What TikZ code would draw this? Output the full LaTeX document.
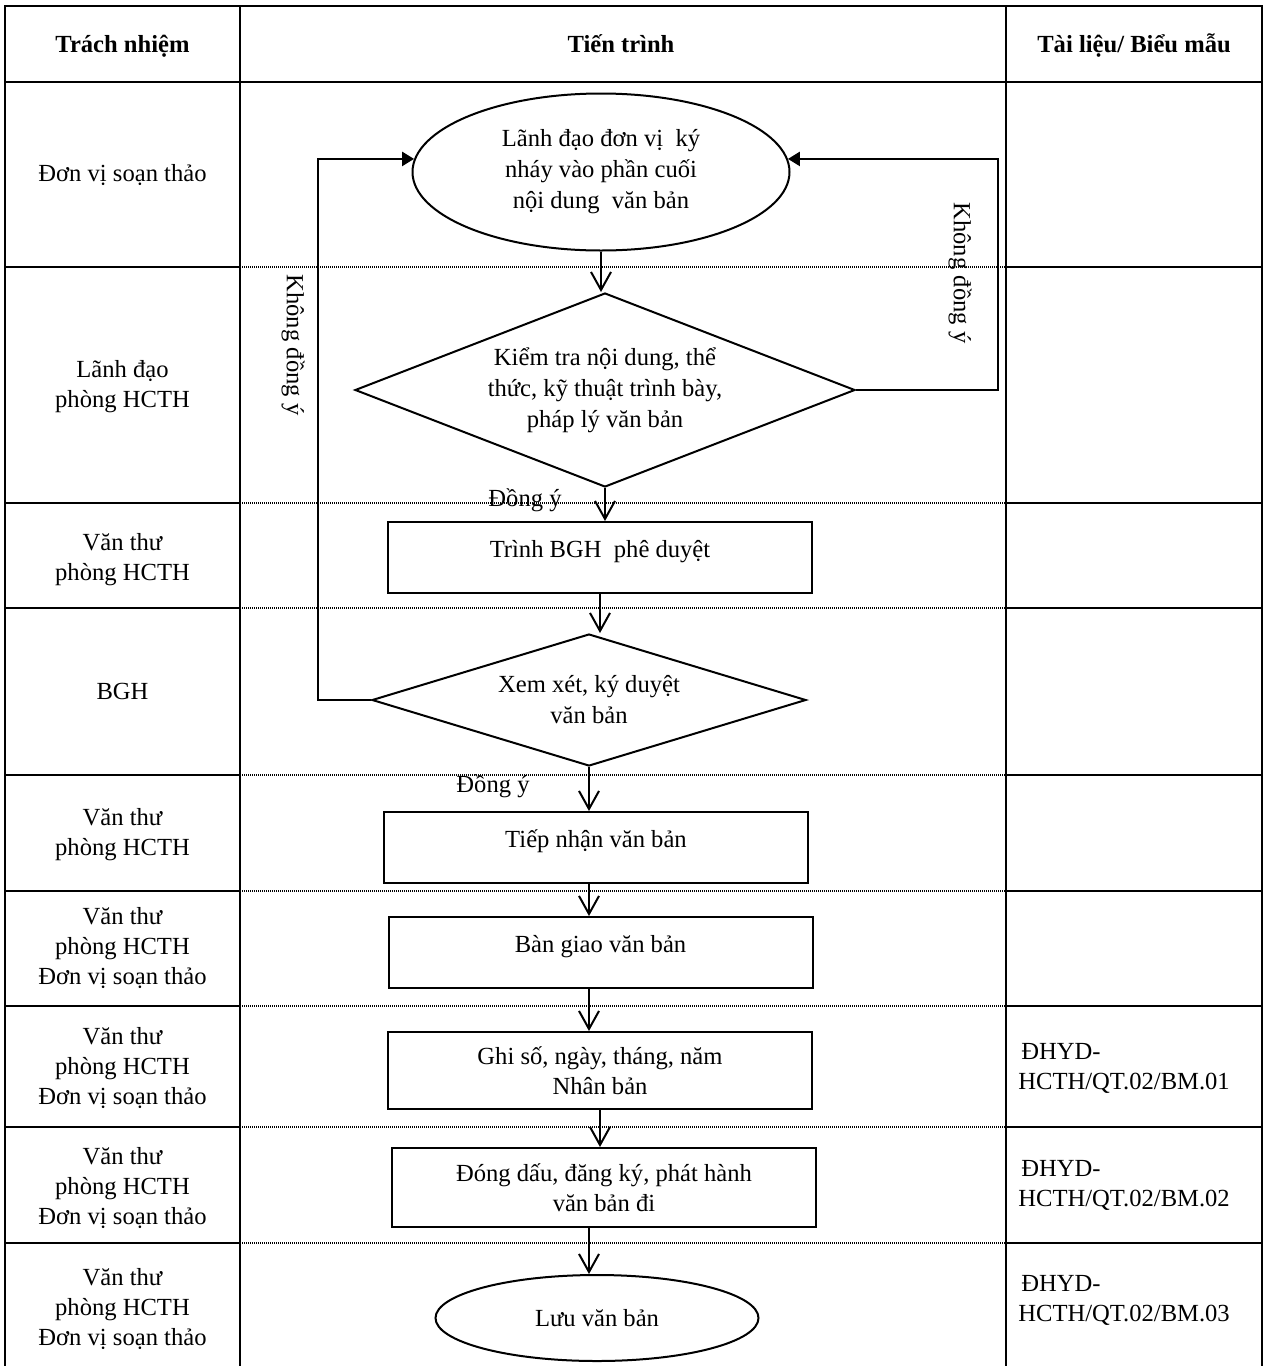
\documentclass[tikz,border=0pt]{standalone}
\usepackage{fontspec}
\setmainfont{Liberation Serif}
\usetikzlibrary{shapes.geometric,arrows.meta}

\begin{document}
\begin{tikzpicture}[x=0.5pt, y=-0.5pt,
  every node/.style={font=\fontsize{12.3}{15}\selectfont, inner sep=0pt, align=center},
  grid/.style={line width=0.9pt},
  rowdots/.style={line width=1pt, dash pattern=on 0.5pt off 0.5pt},
  stepbox/.style={draw, line width=1pt, minimum width=212pt, minimum height=35.5pt},
  oneline/.style={text height=6pt, text depth=6pt},
  decision/.style={draw, diamond, line width=1pt, font=\fontsize{12.3}{15.5}\selectfont},
  terminal/.style={draw, ellipse, line width=1pt, font=\fontsize{12.3}{15.5}\selectfont},
  flow/.style={line width=1pt, -{Straight Barb[length=9pt,width=10pt]}},
  backflow/.style={line width=1.2pt, -{Triangle[length=6pt,width=7pt]}},
  headtext/.style={font=\fontsize{12.3}{15}\selectfont\bfseries, text height=6pt, text depth=6pt}]
\useasboundingbox (0,0) rectangle (1265,1366);

\draw[grid] (5,1366) -- (5,6) -- (1262,6) -- (1262,1366);
\draw[grid] (240,6) -- (240,1366);
\draw[grid] (1006,6) -- (1006,1366);
\draw[grid] (5,82) -- (1262,82);
\draw[grid] (5,267) -- (240,267) (1006,267) -- (1262,267);
\draw[grid] (5,503) -- (240,503) (1006,503) -- (1262,503);
\draw[grid] (5,608) -- (240,608) (1006,608) -- (1262,608);
\draw[grid] (5,775) -- (240,775) (1006,775) -- (1262,775);
\draw[grid] (5,891) -- (240,891) (1006,891) -- (1262,891);
\draw[grid] (5,1006) -- (240,1006) (1006,1006) -- (1262,1006);
\draw[grid] (5,1127) -- (240,1127) (1006,1127) -- (1262,1127);
\draw[grid] (5,1243) -- (240,1243) (1006,1243) -- (1262,1243);
\draw[rowdots] (240,267) -- (1006,267);
\draw[rowdots] (240,503) -- (1006,503);
\draw[rowdots] (240,608) -- (1006,608);
\draw[rowdots] (240,775) -- (1006,775);
\draw[rowdots] (240,891) -- (1006,891);
\draw[rowdots] (240,1006) -- (1006,1006);
\draw[rowdots] (240,1127) -- (1006,1127);
\draw[rowdots] (240,1243) -- (1006,1243);

\node[headtext] (hid0) at (122.5,52) {Trách nhiệm};
\node[headtext] (hid1) at (621,52) {Tiến trình};
\node[headtext] (hid2) at (1134,52) {Tài liệu/ Biểu mẫu};

\node (rid1) at (122.5,175) {Đơn vị soạn thảo};
\node (rid2) at (122.5,387) {Lãnh đạo\\phòng HCTH};
\node (rid3) at (122.5,560) {Văn thư\\phòng HCTH};
\node (rid4) at (122.5,691) {BGH};
\node (rid5) at (122.5,835) {Văn thư\\phòng HCTH};
\node (rid6) at (122.5,948) {Văn thư\\phòng HCTH\\Đơn vị soạn thảo};
\node (rid7) at (122.5,1068) {Văn thư\\phòng HCTH\\Đơn vị soạn thảo};
\node (rid8) at (122.5,1188) {Văn thư\\phòng HCTH\\Đơn vị soạn thảo};
\node (rid9) at (122.5,1309) {Văn thư\\phòng HCTH\\Đơn vị soạn thảo};

\node[anchor=west, align=left] (did7) at (1018,1068) {\hspace*{1.5pt}ĐHYD-\\HCTH/QT.02/BM.01};
\node[anchor=west, align=left] (did8) at (1018,1185) {\hspace*{1.5pt}ĐHYD-\\HCTH/QT.02/BM.02};
\node[anchor=west, align=left] (did9) at (1018,1300) {\hspace*{1.5pt}ĐHYD-\\HCTH/QT.02/BM.03};

\node[terminal, minimum width=188.5pt, minimum height=78.5pt] (fid0) at (601,172) {Lãnh đạo đơn vị~ ký\\nháy vào phần cuối\\nội dung~ văn bản};
\node[decision, minimum width=250pt, minimum height=97pt, shape aspect=2.6] (fid1) at (605,390) {Kiểm tra nội dung, thể\\thức, kỹ thuật trình bày,\\pháp lý văn bản};
\node[stepbox, oneline] (fid2) at (600,557.5) {Trình BGH~ phê duyệt};
\node[decision, minimum width=217pt, minimum height=66pt, shape aspect=3.3] (fid3) at (589,700) {Xem xét, ký duyệt\\văn bản};
\node[stepbox, oneline] (fid4) at (596,847.5) {Tiếp nhận văn bản};
\node[stepbox, oneline] (fid5) at (600.5,952.5) {Bàn giao văn bản};
\node[stepbox, minimum height=38.5pt] (fid6) at (600,1070.5) {Ghi số, ngày, tháng, năm\\Nhân bản};
\node[stepbox, minimum height=39.5pt] (fid7) at (604,1187.5) {Đóng dấu, đăng ký, phát hành\\văn bản đi};
\node[terminal, minimum width=161.5pt, minimum height=43pt] (fid8) at (597,1318) {Lưu văn bản};

\draw[flow] (fid0.south) -- (fid0.south |- fid1.north);
\draw[flow] (fid1.south) -- (fid1.south |- fid2.north);
\draw[flow] (fid2.south) -- (fid2.south |- fid3.north);
\draw[flow] (fid3.south) -- (fid3.south |- fid4.north);
\draw[flow] (fid3.south |- fid4.south) -- (fid3.south |- fid5.north);
\draw[flow] (fid3.south |- fid5.south) -- (fid3.south |- fid6.north);
\draw[flow] (fid6.south) -- (fid6.south |- fid7.north);
\draw[flow] (fid3.south |- fid7.south) -- (fid3.south |- fid8.north);

\coordinate (lid0) at (318,700);
\coordinate (lid1) at (998,390);
\draw[backflow] (fid3.west) -- (lid0) |- (fid0.176);
\draw[backflow] (fid1.east) -- (lid1) |- (fid0.4);

\node[rotate=-90] (nid0) at (293,345) {Không đồng ý};
\node[rotate=-90] (nid1) at (960,273) {Không đồng ý};
\node (yid0) at (525,500) {Đồng ý};
\node (yid1) at (493,786) {Đồng ý};

\end{tikzpicture}
\end{document}
